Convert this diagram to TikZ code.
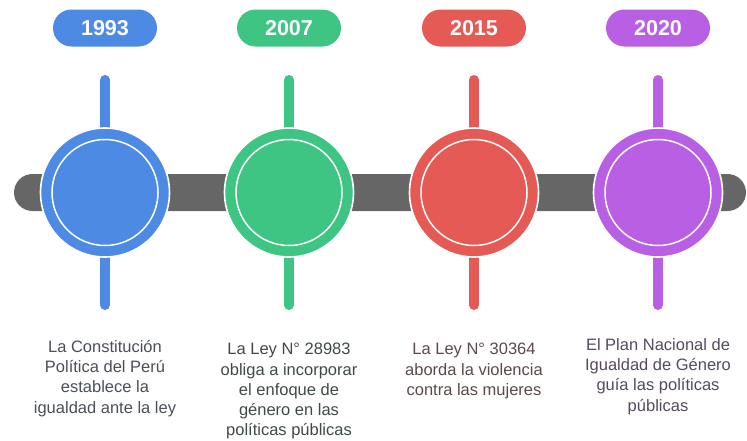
\documentclass[tikz,border=0pt]{standalone}
\usepackage{fontspec}
\setmainfont{Liberation Sans}
\definecolor{cblue}{HTML}{4C8AE4}
\definecolor{cgreen}{HTML}{3EC584}
\definecolor{cred}{HTML}{E55A54}
\definecolor{cpurple}{HTML}{B85FE3}
\definecolor{cbar}{HTML}{666666}
\definecolor{tblue}{HTML}{4A4F58}
\definecolor{tgreen}{HTML}{404A45}
\definecolor{tred}{HTML}{5A4A4A}
\definecolor{tpurple}{HTML}{554A5E}
\tikzset{
  pill/.style={rounded corners=18.5pt, minimum width=104pt, minimum height=37pt, inner sep=0pt,
    text=white, font=\fontsize{21.5}{25}\selectfont\bfseries},
  stick/.style={line width=10pt, line cap=round},
  dot/.style={circle, minimum size=129pt, inner sep=0pt, draw=white, line width=1.6pt},
  ring/.style={circle, minimum size=106pt, inner sep=0pt, draw=white, line width=1.5pt},
  desc/.style={align=center, font=\fontsize{16.5}{20.3}\selectfont, inner sep=0pt}
}
\begin{document}
\begin{tikzpicture}[x=1pt,y=-1pt]
\useasboundingbox (0,0) rectangle (747,440);
% bar
\fill[cbar, rounded corners=18.5pt] (14,174) rectangle (746,211);
\foreach \n/\x/\c/\yr in {a/105/cblue/1993, b/289/cgreen/2007, c/474/cred/2015, d/658/cpurple/2020}{
  \node[pill, fill=\c] (year\n) at (\x,28) {\yr};
  \coordinate (top\n) at (\x,80);
  \coordinate (bot\n) at (\x,305);
  \draw[stick, \c] (top\n) -- (bot\n);
  \node[dot, fill=\c] (dot\n) at (\x,192.5) {};
  \node[ring] (ring\n) at (dot\n) {};
}
\node[desc, text=tblue, anchor=north] (texta) at (105,340) {La Constitución\\Política del Perú\\establece la\\igualdad ante la ley};
\node[desc, text=tgreen, anchor=north] (textb) at (289,343) {La Ley N° 28983\\obliga a incorporar\\el enfoque de\\género en las\\políticas públicas};
\node[desc, text=tred, anchor=north] (textc) at (474,343) {La Ley N° 30364\\aborda la violencia\\contra las mujeres};
\node[desc, text=tpurple, anchor=north] (textd) at (658,338) {El Plan Nacional de\\Igualdad de Género\\guía las políticas\\públicas};
\end{tikzpicture}
\end{document}
